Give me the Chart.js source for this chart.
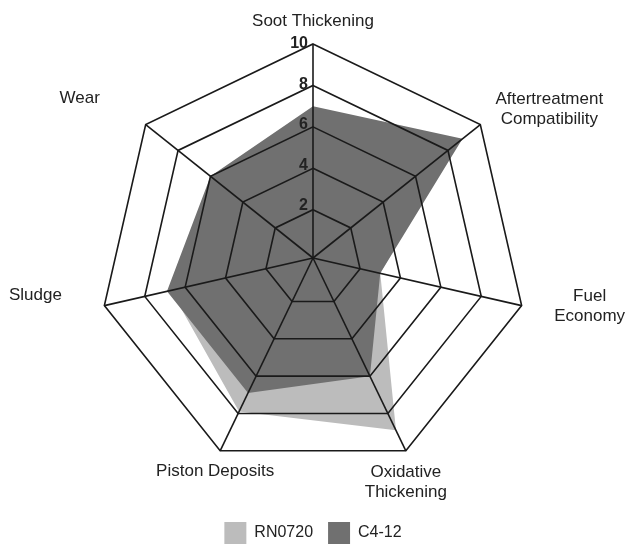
<!DOCTYPE html>
<html>
<head>
<meta charset="utf-8">
<script src="https://cdn.jsdelivr.net/npm/chart.js@4/dist/chart.umd.min.js"></script>
<style>
  html, body { margin: 0; padding: 0; background: #fff; overflow: hidden; }
  #clip { width: 626px; height: 545px; overflow: hidden; position: relative; }
  #box { position: absolute; left: 0; top: 0; width: 626px; height: 554px; }
</style>
</head>
<body>
<div id="clip"><div id="box"><canvas id="c"></canvas></div></div>
<script>
// ---- data ----
const categories = [
  'Soot Thickening',
  ['Aftertreatment', 'Compatibility'],
  ['Fuel', 'Economy'],
  ['Oxidative', 'Thickening'],
  'Piston Deposits',
  'Sludge',
  'Wear'
];
const seriesNames = ['RN0720', 'C4-12'];
const rn0720 = [6.5, 8.3, 3.0, 8.9, 7.9, 6.7, 5.6];
const c412   = [7.0, 8.9, 3.0, 6.0, 6.9, 6.9, 6.0];
const tickValues = [2, 4, 6, 8, 10];

// ---- layout / style ----
const FONT = '"Liberation Sans", Arial, Helvetica, sans-serif';
const TEXT = '#222';
const LINE = '#1a1a1a';
const labelOffsets = [
  [0, -23], [69, -15], [68, 1], [0, 32], [-5, 21], [-69, -10], [-66, -26]
];

const axisText = {
  id: 'axisText',
  afterDraw(chart) {
    const s = chart.scales.r;
    const ctx = chart.ctx;
    ctx.save();
    ctx.fillStyle = TEXT;
    ctx.font = 'bold 16px ' + FONT;
    ctx.textAlign = 'right';
    ctx.textBaseline = 'middle';
    tickValues.forEach(v => {
      const p = s.getPointPositionForValue(0, v);
      ctx.fillText(String(v), p.x - 5, p.y - (0.3 + 0.47 * (10 - v)));
    });
    ctx.font = '17px ' + FONT;
    ctx.textAlign = 'center';
    categories.forEach((lab, i) => {
      const lines = Array.isArray(lab) ? lab : [lab];
      const p = s.getPointPosition(i, s.drawingArea);
      const [dx, dy] = labelOffsets[i];
      lines.forEach((t, k) => {
        ctx.fillText(t, p.x + dx, p.y + dy + (k - (lines.length - 1) / 2) * 20);
      });
    });
    ctx.restore();
  }
};

new Chart(document.getElementById('c'), {
  type: 'radar',
  data: {
    labels: categories,
    datasets: [
      { label: seriesNames[0], data: rn0720, order: 1,
        backgroundColor: '#bcbcbc', borderColor: '#bcbcbc', borderWidth: 0,
        pointRadius: 0, fill: 'start' },
      { label: seriesNames[1], data: c412, order: 0,
        backgroundColor: '#707070', borderColor: '#707070', borderWidth: 0,
        pointRadius: 0, fill: 'start' }
    ]
  },
  options: {
    responsive: true,
    maintainAspectRatio: false,
    animation: false,
    devicePixelRatio: 1,
    layout: { padding: { top: 9, left: 99, right: 99, bottom: 0 } },
    plugins: {
      tooltip: { enabled: false },
      legend: {
        position: 'bottom',
        labels: {
          boxWidth: 22, boxHeight: 22, padding: 15,
          color: TEXT, font: { family: FONT, size: 16 },
          sort: (a, b) => a.datasetIndex - b.datasetIndex
        }
      }
    },
    scales: {
      r: {
        min: -0.33, max: 10,
        afterBuildTicks: (sc) => { sc.ticks = [-0.33].concat(tickValues).map(v => ({ value: v })); },
        ticks: { display: false, z: 1 },
        pointLabels: { display: false },
        grid: { color: LINE, lineWidth: 1.6, z: 1 },
        angleLines: { color: LINE, lineWidth: 1.6 }
      }
    }
  },
  plugins: [axisText]
});
</script>
</body>
</html>
